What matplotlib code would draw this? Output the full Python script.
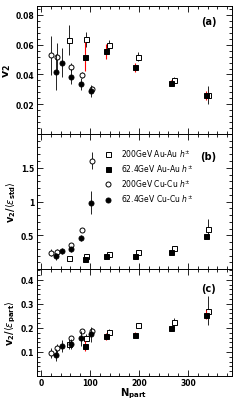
import matplotlib
matplotlib.use("Agg")
import matplotlib.pyplot as plt
from matplotlib.ticker import MultipleLocator, FixedLocator
import numpy as np

# ---- Data ----
# x positions (N_part)
n_au200 = [58, 93, 138, 199, 271, 341]
n_au62 = [90, 132, 192, 266, 337]
n_cu200 = [20, 32, 62, 84, 105]
n_cu62 = [30, 44, 61, 81, 102]

# panel (a): v2
a_au200 = [0.063, 0.0635, 0.060, 0.052, 0.0362, 0.026]
a_au200_e = [0.010, 0.005, 0.003, 0.003, 0.002, 0.006]
a_au62 = [0.052, 0.0557, 0.0448, 0.0342, 0.026]
a_au62_e = [0.010, 0.005, 0.003, 0.002, 0.003]
a_cu200 = [0.0528, 0.052, 0.045, 0.0395, 0.0305]
a_cu200_e = [0.013, 0.009, 0.003, 0.002, 0.002]
a_cu62 = [0.0415, 0.048, 0.0385, 0.0335, 0.029]
a_cu62_e = [0.012, 0.010, 0.005, 0.004, 0.004]

# panel (b): v2/<eps_std>
b_au200 = [0.165, 0.19, 0.22, 0.25, 0.305, 0.60]
b_au200_e = [0.02, 0.02, 0.01, 0.01, 0.02, 0.14]
b_au62 = [0.15, 0.19, 0.20, 0.25, 0.49]
b_au62_e = [0.02, 0.01, 0.01, 0.01, 0.03]
b_cu200 = [0.24, 0.25, 0.355, 0.58, 1.605]
b_cu200_e = [0.05, 0.04, 0.02, 0.02, 0.13]
b_cu62 = [0.19, 0.265, 0.29, 0.46, 0.98]
b_cu62_e = [0.05, 0.05, 0.04, 0.05, 0.17]

# panel (c): v2/<eps_part>
c_au200 = [0.134, 0.159, 0.184, 0.211, 0.225, 0.271]
c_au200_e = [0.02, 0.015, 0.01, 0.008, 0.015, 0.06]
c_au62 = [0.126, 0.165, 0.172, 0.199, 0.255]
c_au62_e = [0.02, 0.015, 0.01, 0.01, 0.02]
c_cu200 = [0.095, 0.115, 0.156, 0.187, 0.188]
c_cu200_e = [0.02, 0.02, 0.01, 0.01, 0.01]
c_cu62 = [0.088, 0.126, 0.132, 0.156, 0.173]
c_cu62_e = [0.025, 0.025, 0.02, 0.03, 0.03]

labels = [r"200GeV Au-Au $h^{\pm}$", r"62.4GeV Au-Au $h^{\pm}$",
          r"200GeV Cu-Cu $h^{\pm}$", r"62.4GeV Cu-Cu $h^{\pm}$"]

fig = plt.figure(figsize=(2.45, 4.02), dpi=100)
L, W = 37/245, 195/245
ax_a = fig.add_axes([L, 1-135/402, W, 128/402])
ax_b = fig.add_axes([L, 1-270/402, W, 135/402])
ax_c = fig.add_axes([L, 1-377/402, W, 107/402])

def draw(ax, vals):
    (au200, au200e), (au62, au62e), (cu200, cu200e), (cu62, cu62e) = vals
    ms = 3.6
    h = []
    h.append(ax.errorbar(n_au200, au200, yerr=au200e, fmt='s', mfc='white', mec='black',
                ecolor='black', ms=ms, mew=0.7, elinewidth=0.6, capsize=0, zorder=3))
    h.append(ax.errorbar(n_au62, au62, yerr=au62e, fmt='s', mfc='black', mec='black',
                ecolor='red', ms=ms, mew=0.7, elinewidth=0.8, capsize=0, zorder=4))
    h.append(ax.errorbar(n_cu200, cu200, yerr=cu200e, fmt='o', mfc='white', mec='black',
                ecolor='black', ms=ms, mew=0.7, elinewidth=0.6, capsize=0, zorder=3))
    h.append(ax.errorbar(n_cu62, cu62, yerr=cu62e, fmt='o', mfc='black', mec='black',
                ecolor='black', ms=ms, mew=0.7, elinewidth=0.6, capsize=0, zorder=4))
    return h

ha = draw(ax_a, [(a_au200, a_au200_e), (a_au62, a_au62_e), (a_cu200, a_cu200_e), (a_cu62, a_cu62_e)])
hb = draw(ax_b, [(b_au200, b_au200_e), (b_au62, b_au62_e), (b_cu200, b_cu200_e), (b_cu62, b_cu62_e)])
hc = draw(ax_c, [(c_au200, c_au200_e), (c_au62, c_au62_e), (c_cu200, c_cu200_e), (c_cu62, c_cu62_e)])

for ax in (ax_a, ax_b, ax_c):
    ax.set_xlim(-8, 390)
    ax.xaxis.set_major_locator(MultipleLocator(100))
    ax.xaxis.set_minor_locator(MultipleLocator(20))
    ax.tick_params(which='both', direction='in', top=True, right=True, width=0.6)
    ax.tick_params(which='major', length=4, labelsize=5.5, pad=2)
    ax.tick_params(which='minor', length=2)
    ax.tick_params(axis='x', pad=1.2)
    for s in ax.spines.values():
        s.set_linewidth(0.7)

ax_a.set_ylim(0, 0.086)
ax_a.yaxis.set_major_locator(FixedLocator([0.02, 0.04, 0.06, 0.08]))
ax_a.yaxis.set_minor_locator(MultipleLocator(0.004))
ax_a.set_yticklabels(['0.02', '0.04', '0.06', '0.08'], fontweight='bold')

ax_b.set_ylim(0, 2.0)
ax_b.yaxis.set_major_locator(FixedLocator([0.5, 1.0, 1.5]))
ax_b.yaxis.set_minor_locator(MultipleLocator(0.1))
ax_b.set_yticklabels(['0.5', '1', '1.5'], fontweight='bold')

ax_c.set_ylim(0, 0.445)
ax_c.yaxis.set_major_locator(FixedLocator([0.1, 0.2, 0.3, 0.4]))
ax_c.yaxis.set_minor_locator(MultipleLocator(0.02))
ax_c.set_yticklabels(['0.1', '0.2', '0.3', '0.4'], fontweight='bold')

ax_a.tick_params(labelbottom=False)
ax_b.tick_params(labelbottom=False)
ax_c.set_xticks([0, 100, 200, 300])
ax_c.set_xticklabels(['0', '100', '200', '300'], fontweight='bold')

ax_a.set_ylabel(r"$\mathbf{v}_{\mathbf{2}}$", fontsize=8, labelpad=2)
ax_b.set_ylabel(r"$\mathbf{v}_{\mathbf{2}}\mathbf{/}\langle\varepsilon_{\mathbf{std}}\rangle$", fontsize=7, labelpad=2)
ax_c.set_ylabel(r"$\mathbf{v}_{\mathbf{2}}\mathbf{/}\langle\varepsilon_{\mathbf{part}}\rangle$", fontsize=7, labelpad=2)
ax_c.set_xlabel(r"$\mathbf{N}_{\mathbf{part}}$", fontsize=7.2, labelpad=0)
ax_c.xaxis.set_label_coords(0.565, -0.088)
ax_c.xaxis.label.set_ha('right')
ax_c.xaxis.label.set_va('top')

for ax, t, y in ((ax_a, '(a)', 0.88), (ax_b, '(b)', 0.84), (ax_c, '(c)', 0.82)):
    ax.text(0.88, y, t, transform=ax.transAxes, fontsize=7, fontweight='bold', ha='center', va='center')

leg = ax_b.legend([hh[0] for hh in hb], labels, loc='upper left', bbox_to_anchor=(0.33, 0.925),
                  frameon=False, fontsize=5.5, handlelength=1.0, handletextpad=1.2,
                  labelspacing=0.45, borderaxespad=0)

fig.savefig('out.png', dpi=100)
